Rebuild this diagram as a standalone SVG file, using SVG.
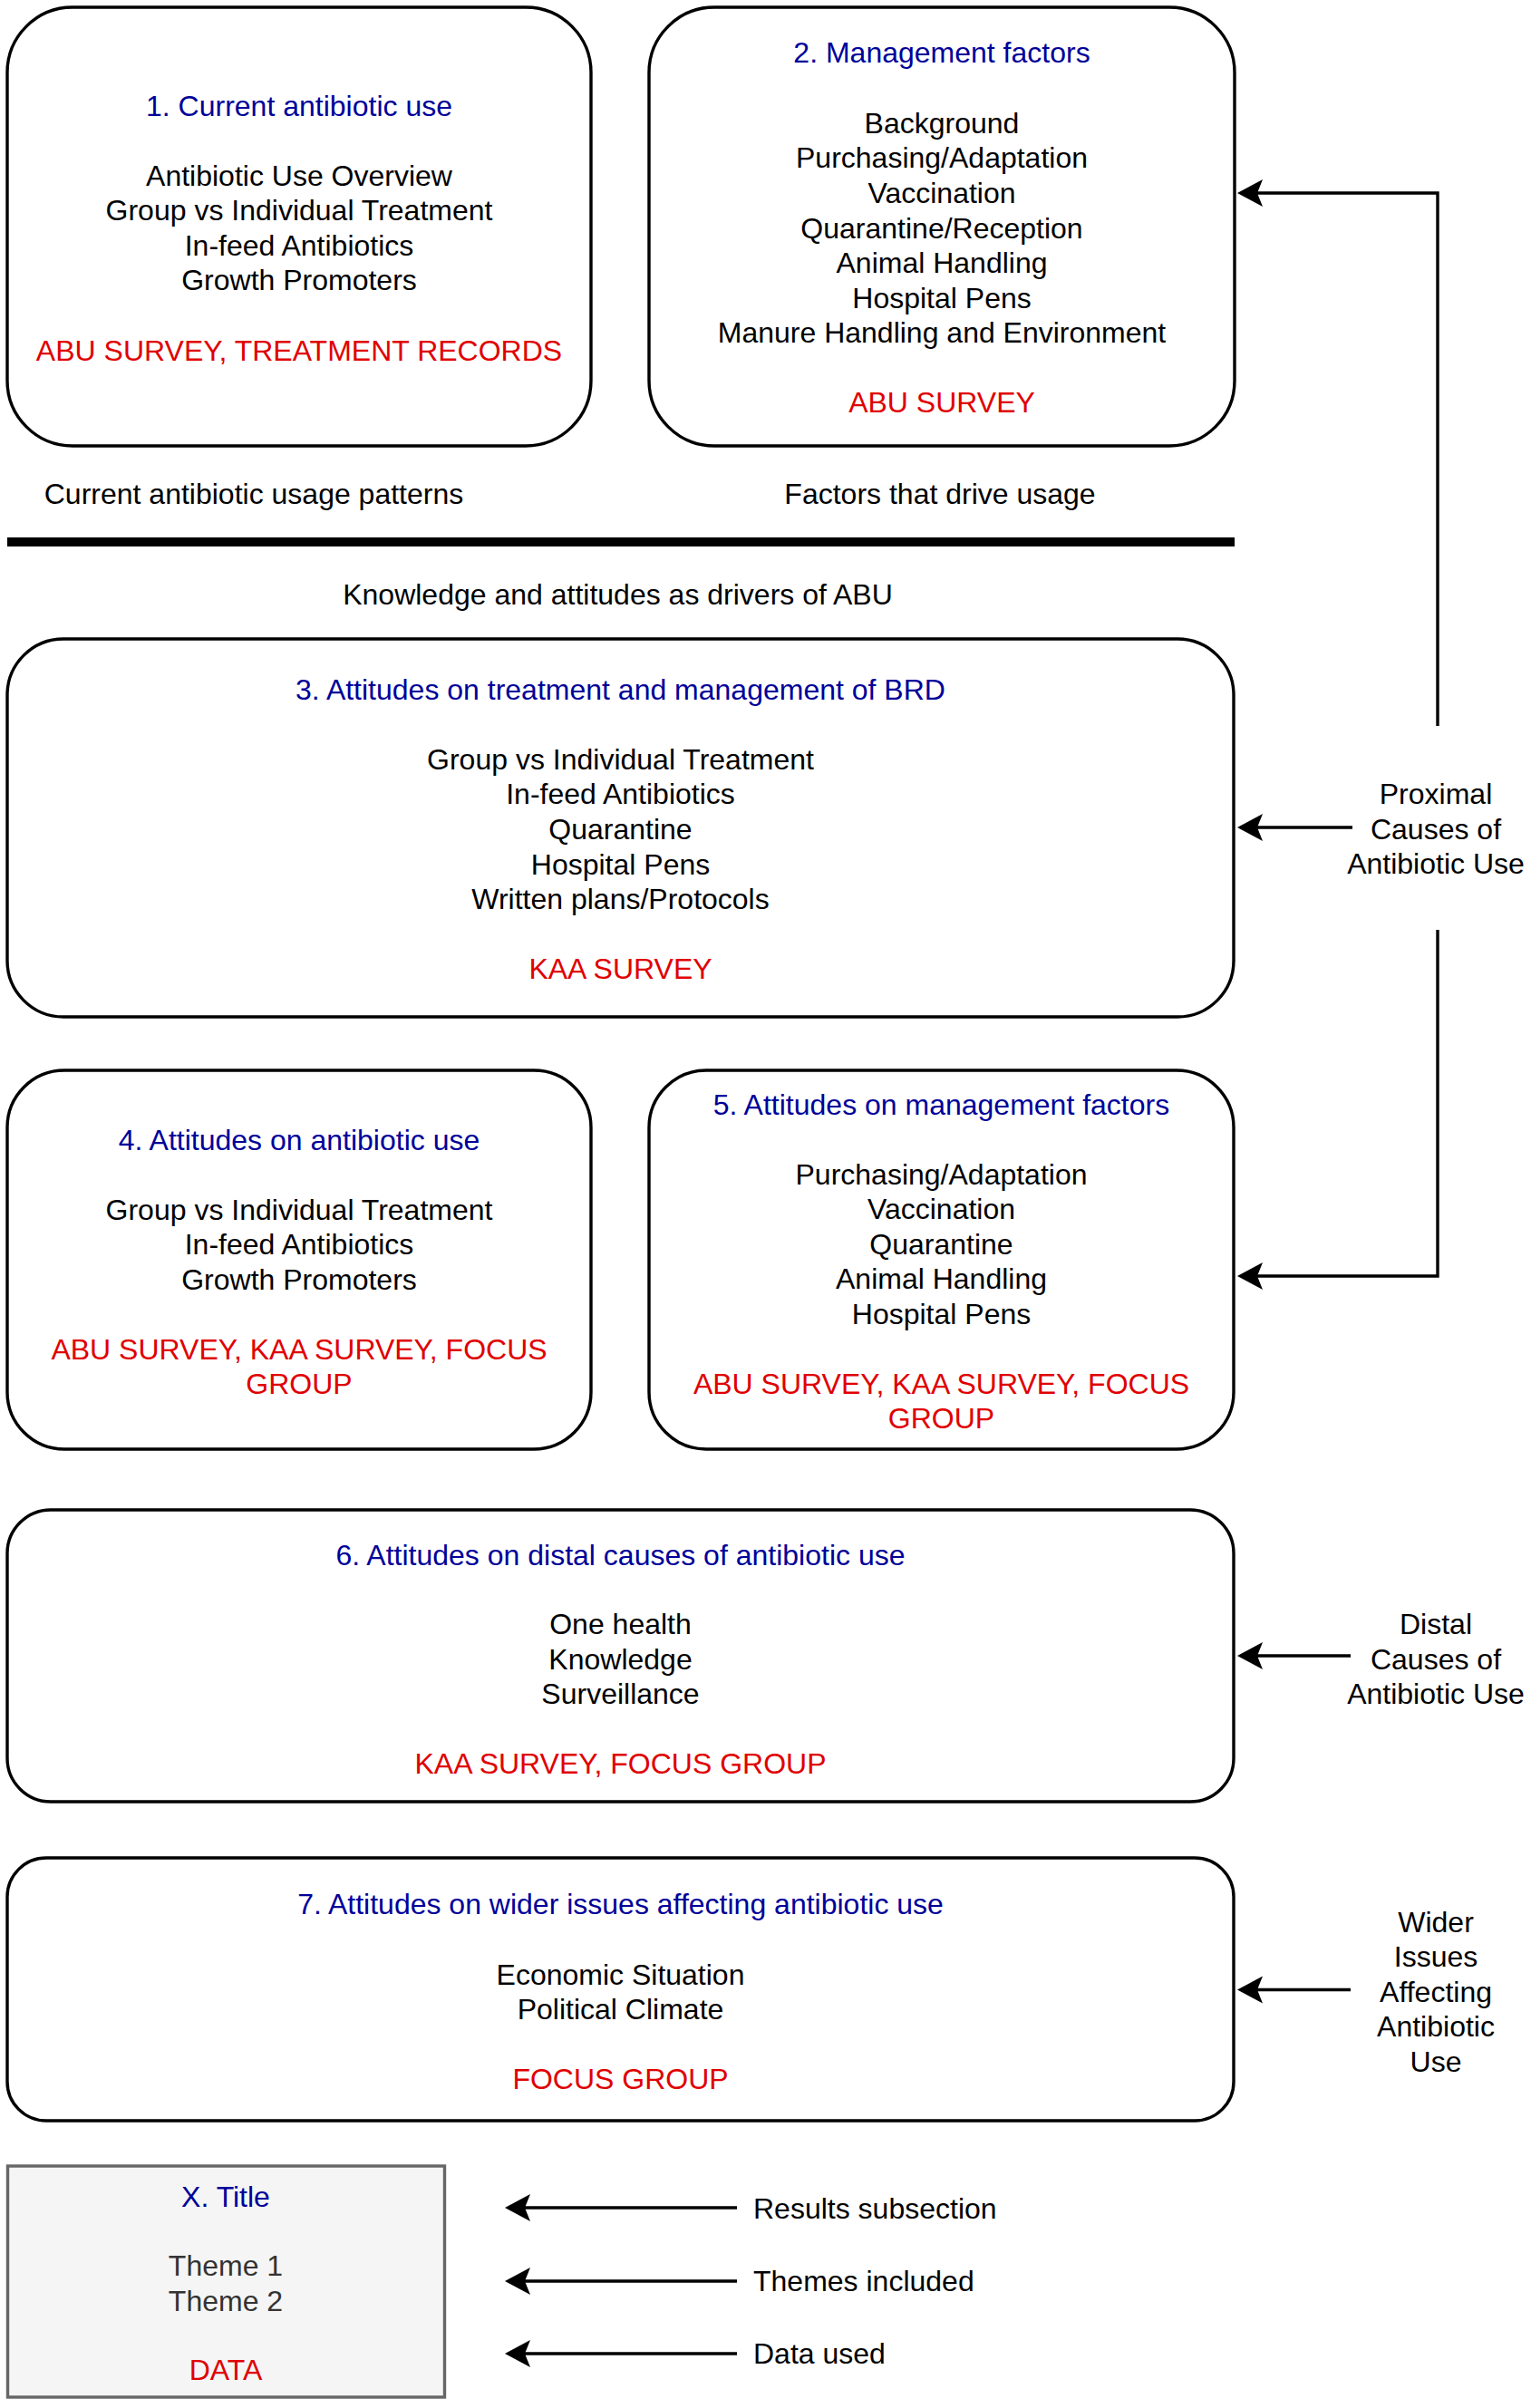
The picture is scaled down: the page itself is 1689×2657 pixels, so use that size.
<svg xmlns="http://www.w3.org/2000/svg" width="1689" height="2657" viewBox="0 0 1689 2657">
<style>
text{font-family:"Liberation Sans",Arial,sans-serif;font-size:32px;text-anchor:middle;fill:#000}
.t{fill:#000099}
.r{fill:#e00000}
.g{fill:#333}
.l{text-anchor:start}
.box{fill:#fff;stroke:#000;stroke-width:3.4}
.leg{fill:#f5f5f5;stroke:#666;stroke-width:3.4}
.c{fill:none;stroke:#000;stroke-width:3.4}
</style>
<defs>
<marker id="arr" markerUnits="userSpaceOnUse" orient="auto" markerWidth="40" markerHeight="40" viewBox="-10 -20 40 40" refX="0" refY="0" overflow="visible">
<path d="M-6,-15 L22,0 L-6,15 L0,0 Z" fill="#000"/>
</marker>
</defs>
<rect width="1689" height="2657" fill="#fff"/>

<g id="node1">
<rect class="box" x="8" y="8" width="644" height="484" rx="72"/>
<text class="t" x="330" y="127.5">1. Current antibiotic use</text>
<text x="330" y="204.5">Antibiotic Use Overview</text>
<text x="330" y="243">Group vs Individual Treatment</text>
<text x="330" y="281.5">In-feed Antibiotics</text>
<text x="330" y="320">Growth Promoters</text>
<text class="r" x="330" y="397.5">ABU SURVEY, TREATMENT RECORDS</text>
</g>

<g id="node2">
<rect class="box" x="716" y="8" width="646" height="484" rx="72"/>
<text class="t" x="1039" y="68.5">2. Management factors</text>
<text x="1039" y="146.5">Background</text>
<text x="1039" y="185">Purchasing/Adaptation</text>
<text x="1039" y="224">Vaccination</text>
<text x="1039" y="262.5">Quarantine/Reception</text>
<text x="1039" y="301">Animal Handling</text>
<text x="1039" y="339.5">Hospital Pens</text>
<text x="1039" y="378">Manure Handling and Environment</text>
<text class="r" x="1039" y="455">ABU SURVEY</text>
</g>

<g id="labels-top">
<text x="280" y="556">Current antibiotic usage patterns</text>
<text x="1037" y="556">Factors that drive usage</text>
<line x1="8" y1="598" x2="1362" y2="598" stroke="#000" stroke-width="10"/>
<text x="681.5" y="667">Knowledge and attitudes as drivers of ABU</text>
</g>

<g id="node3">
<rect class="box" x="8" y="705" width="1353" height="417" rx="62"/>
<text class="t" x="684.5" y="772">3. Attitudes on treatment and management of BRD</text>
<text x="684.5" y="848.5">Group vs Individual Treatment</text>
<text x="684.5" y="887">In-feed Antibiotics</text>
<text x="684.5" y="926">Quarantine</text>
<text x="684.5" y="964.5">Hospital Pens</text>
<text x="684.5" y="1003">Written plans/Protocols</text>
<text class="r" x="684.5" y="1080">KAA SURVEY</text>
</g>

<g id="node-proximal">
<text x="1584" y="887">Proximal</text>
<text x="1584" y="926">Causes of</text>
<text x="1584" y="964">Antibiotic Use</text>
</g>

<g id="node4">
<rect class="box" x="8" y="1181" width="644" height="418" rx="63"/>
<text class="t" x="330" y="1268.5">4. Attitudes on antibiotic use</text>
<text x="330" y="1345.5">Group vs Individual Treatment</text>
<text x="330" y="1384">In-feed Antibiotics</text>
<text x="330" y="1422.5">Growth Promoters</text>
<text class="r" x="330" y="1499.5">ABU SURVEY, KAA SURVEY, FOCUS</text>
<text class="r" x="330" y="1538">GROUP</text>
</g>

<g id="node5">
<rect class="box" x="716" y="1181" width="645" height="418" rx="63"/>
<text class="t" x="1038.5" y="1229.5">5. Attitudes on management factors</text>
<text x="1038.5" y="1306.5">Purchasing/Adaptation</text>
<text x="1038.5" y="1345">Vaccination</text>
<text x="1038.5" y="1383.5">Quarantine</text>
<text x="1038.5" y="1422">Animal Handling</text>
<text x="1038.5" y="1460.5">Hospital Pens</text>
<text class="r" x="1038.5" y="1537.5">ABU SURVEY, KAA SURVEY, FOCUS</text>
<text class="r" x="1038.5" y="1576">GROUP</text>
</g>

<g id="node6">
<rect class="box" x="8" y="1666" width="1353" height="322" rx="48"/>
<text class="t" x="684.5" y="1726.5">6. Attitudes on distal causes of antibiotic use</text>
<text x="684.5" y="1803">One health</text>
<text x="684.5" y="1841.5">Knowledge</text>
<text x="684.5" y="1880">Surveillance</text>
<text class="r" x="684.5" y="1957">KAA SURVEY, FOCUS GROUP</text>
</g>

<g id="node-distal">
<text x="1584" y="1803">Distal</text>
<text x="1584" y="1841.5">Causes of</text>
<text x="1584" y="1880">Antibiotic Use</text>
</g>

<g id="node7">
<rect class="box" x="8" y="2050" width="1353" height="290" rx="43"/>
<text class="t" x="684.5" y="2112">7. Attitudes on wider issues affecting antibiotic use</text>
<text x="684.5" y="2189.5">Economic Situation</text>
<text x="684.5" y="2228">Political Climate</text>
<text class="r" x="684.5" y="2305">FOCUS GROUP</text>
</g>

<g id="node-wider">
<text x="1584" y="2131.5">Wider</text>
<text x="1584" y="2170">Issues</text>
<text x="1584" y="2208.5">Affecting</text>
<text x="1584" y="2247">Antibiotic</text>
<text x="1584" y="2285.5">Use</text>
</g>

<g id="legend">
<rect class="leg" x="8.5" y="2390" width="482" height="255"/>
<text class="t" x="249" y="2434.5">X. Title</text>
<text class="g" x="249" y="2511">Theme 1</text>
<text class="g" x="249" y="2549.5">Theme 2</text>
<text class="r" x="249" y="2626">DATA</text>
<text class="l" x="831" y="2448">Results subsection</text>
<text class="l" x="831" y="2528">Themes included</text>
<text class="l" x="831" y="2608">Data used</text>
</g>

<g id="connectors">
<path class="c" d="M1586 801 V213 H1387" marker-end="url(#arr)"/>
<path class="c" d="M1492 913 H1387" marker-end="url(#arr)"/>
<path class="c" d="M1586 1026 V1408 H1387" marker-end="url(#arr)"/>
<path class="c" d="M1490 1827 H1387" marker-end="url(#arr)"/>
<path class="c" d="M1490 2195.5 H1387" marker-end="url(#arr)"/>
<path class="c" d="M813 2436 H579" marker-end="url(#arr)"/>
<path class="c" d="M813 2517 H579" marker-end="url(#arr)"/>
<path class="c" d="M813 2597 H579" marker-end="url(#arr)"/>
</g>
</svg>
